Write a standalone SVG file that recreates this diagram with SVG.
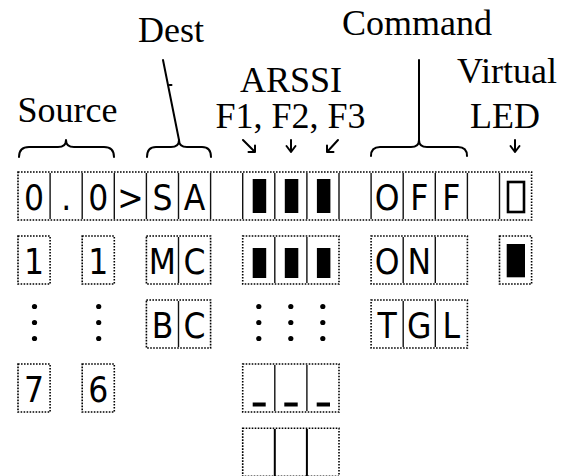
<svg xmlns="http://www.w3.org/2000/svg" width="561" height="476" viewBox="0 0 561 476">
<style>
.lbl{font-family:"Liberation Serif","Times New Roman",serif;font-size:36px;fill:#000;text-anchor:middle}
.ch{font-family:"DejaVu Sans Condensed","DejaVu Sans",sans-serif;font-stretch:condensed;font-size:35px;fill:#000;text-anchor:middle}
.box{fill:#fff;stroke:#000;stroke-width:1.6;stroke-dasharray:1.6 1.4}
.div{stroke:#111;stroke-width:1.4}
.div2{stroke:#000;stroke-width:2}
.con{fill:none;stroke:#000;stroke-width:2;stroke-linecap:round;stroke-linejoin:round}
.bar{fill:#000}
</style>
<rect width="561" height="476" fill="#fff"/>
<g id="labels">
<text class="lbl" x="171" y="42">Dest</text>
<text class="lbl" x="417" y="35">Command</text>
<text class="lbl" x="291" y="92">ARSSI</text>
<text class="lbl" x="290.5" y="128">F1, F2, F3</text>
<text class="lbl" x="507" y="83">Virtual</text>
<text class="lbl" x="67.5" y="122">Source</text>
<text class="lbl" x="505" y="128">LED</text>
</g>
<g id="connectors">
<path class="con" d="M19,157 Q19,147 29,147 H58 Q66,147 66,140 Q66,147 74,147 H104 Q114,147 114,157"/>
<path class="con" d="M147,157 Q147,147 156,147 H171 Q179,147 179,140 Q179,147 187,147 H202 Q211,147 211,157"/>
<path class="con" d="M371,156 Q371,147 380,147 H411 Q419,147 419,140 Q419,147 427,147 H458 Q467,147 467,156"/>
<path class="con" d="M163,60 L179,140" stroke-width="1.6"/>
<path class="con" d="M169.5,85 H171.5" stroke-width="1.2"/>
<path class="con" d="M419,60 V140" stroke-width="1.6"/>
<path class="con" d="M243,140 L255,152 M255,145.5 V152 H248.5"/>
<path class="con" d="M291,140 V152 M286.5,146 L291,152 L295.5,146"/>
<path class="con" d="M338,140 L327,152 M327,145.5 V152 H333.5"/>
<path class="con" d="M515,140 V152 M510.5,146 L515,152 L519.5,146"/>
</g>
<g id="row1">
<rect class="box" x="18" y="172" width="513.6" height="48"/>
<g class="div">
<line x1="50.1" y1="173" x2="50.1" y2="219"/>
<line x1="82.2" y1="173" x2="82.2" y2="219"/>
<line x1="114.3" y1="173" x2="114.3" y2="219"/>
<line x1="146.4" y1="173" x2="146.4" y2="219"/>
<line x1="178.5" y1="173" x2="178.5" y2="219"/>
<line x1="210.6" y1="173" x2="210.6" y2="219"/>
<line x1="242.7" y1="173" x2="242.7" y2="219"/>
<line x1="274.8" y1="173" x2="274.8" y2="219"/>
<line x1="306.9" y1="173" x2="306.9" y2="219"/>
<line x1="339" y1="173" x2="339" y2="219"/>
<line x1="371.1" y1="173" x2="371.1" y2="219"/>
<line x1="403.2" y1="173" x2="403.2" y2="219"/>
<line x1="435.3" y1="173" x2="435.3" y2="219"/>
<line x1="467.4" y1="173" x2="467.4" y2="219"/>
<line x1="499.5" y1="173" x2="499.5" y2="219"/>
</g>
<text class="ch" x="34.05" y="210">0</text>
<text class="ch" x="66.15" y="210">.</text>
<text class="ch" x="98.25" y="210">0</text>
<text class="ch" x="130.35" y="210">&gt;</text>
<text class="ch" x="162.45" y="210">S</text>
<text class="ch" x="194.55" y="210">A</text>
<rect class="bar" x="252.7" y="179" width="13.5" height="34"/>
<rect class="bar" x="284.8" y="179" width="13.5" height="34"/>
<rect class="bar" x="316.9" y="179" width="13.5" height="34"/>
<text class="ch" x="387.15" y="210">O</text>
<text class="ch" x="419.25" y="210">F</text>
<text class="ch" x="451.35" y="210">F</text>
<rect x="508" y="182" width="16" height="30" fill="none" stroke="#000" stroke-width="2.6"/>
</g>
<g id="row2">
<rect class="box" x="18" y="236" width="32.1" height="48"/>
<text class="ch" x="34.05" y="274">1</text>
<rect class="box" x="82.2" y="236" width="32.1" height="48"/>
<text class="ch" x="98.25" y="274">1</text>
<rect class="box" x="146.4" y="236" width="64.2" height="48"/>
<line class="div" x1="178.5" y1="237" x2="178.5" y2="283"/>
<text class="ch" x="162.45" y="274">M</text>
<text class="ch" x="194.55" y="274">C</text>
<rect class="box" x="242.7" y="236" width="96.3" height="48"/>
<line class="div" x1="274.8" y1="237" x2="274.8" y2="283"/>
<line class="div" x1="306.9" y1="237" x2="306.9" y2="283"/>
<rect class="bar" x="252.7" y="248" width="13.5" height="30"/>
<rect class="bar" x="284.8" y="248" width="13.5" height="30"/>
<rect class="bar" x="316.9" y="248" width="13.5" height="30"/>
<rect class="box" x="371.1" y="236" width="96.3" height="48"/>
<line class="div" x1="403.2" y1="237" x2="403.2" y2="283"/>
<line class="div" x1="435.3" y1="237" x2="435.3" y2="283"/>
<text class="ch" x="387.15" y="274">O</text>
<text class="ch" x="419.25" y="274">N</text>
<rect class="box" x="499.5" y="236" width="32.1" height="48"/>
<rect class="bar" x="506.7" y="244" width="18.3" height="33.3"/>
</g>
<g id="row3">
<g class="bar">
<circle cx="34.5" cy="306.5" r="2.6"/><circle cx="34.5" cy="322.5" r="2.6"/><circle cx="34.5" cy="338.5" r="2.6"/>
<circle cx="98.7" cy="306.5" r="2.6"/><circle cx="98.7" cy="322.5" r="2.6"/><circle cx="98.7" cy="338.5" r="2.6"/>
<circle cx="258.8" cy="306.5" r="2.6"/><circle cx="258.8" cy="322.5" r="2.6"/><circle cx="258.8" cy="338.5" r="2.6"/>
<circle cx="290.8" cy="306.5" r="2.6"/><circle cx="290.8" cy="322.5" r="2.6"/><circle cx="290.8" cy="338.5" r="2.6"/>
<circle cx="322.8" cy="306.5" r="2.6"/><circle cx="322.8" cy="322.5" r="2.6"/><circle cx="322.8" cy="338.5" r="2.6"/>
</g>
<rect class="box" x="146.4" y="300" width="64.2" height="48"/>
<line class="div" x1="178.5" y1="301" x2="178.5" y2="347"/>
<text class="ch" x="162.45" y="338">B</text>
<text class="ch" x="194.55" y="338">C</text>
<rect class="box" x="371.1" y="300" width="96.3" height="48"/>
<line class="div" x1="403.2" y1="301" x2="403.2" y2="347"/>
<line class="div" x1="435.3" y1="301" x2="435.3" y2="347"/>
<text class="ch" x="387.15" y="338">T</text>
<text class="ch" x="419.25" y="338">G</text>
<text class="ch" x="451.35" y="338">L</text>
</g>
<g id="row4">
<rect class="box" x="18" y="364" width="32.1" height="48"/>
<text class="ch" x="34.05" y="402">7</text>
<rect class="box" x="82.2" y="364" width="32.1" height="48"/>
<text class="ch" x="98.25" y="402">6</text>
<rect class="box" x="242.7" y="364" width="96.3" height="48"/>
<line class="div" x1="274.8" y1="365" x2="274.8" y2="411"/>
<line class="div" x1="306.9" y1="365" x2="306.9" y2="411"/>
<rect class="bar" x="252.7" y="402.5" width="13" height="4"/>
<rect class="bar" x="284.3" y="402.5" width="13.4" height="4"/>
<rect class="bar" x="316.7" y="402.5" width="13.3" height="4"/>
</g>
<g id="row5">
<rect class="box" x="242.7" y="428.3" width="96.3" height="48"/>
<line class="div2" x1="274.8" y1="429" x2="274.8" y2="476"/>
<line class="div2" x1="306.9" y1="429" x2="306.9" y2="476"/>
</g>
</svg>
